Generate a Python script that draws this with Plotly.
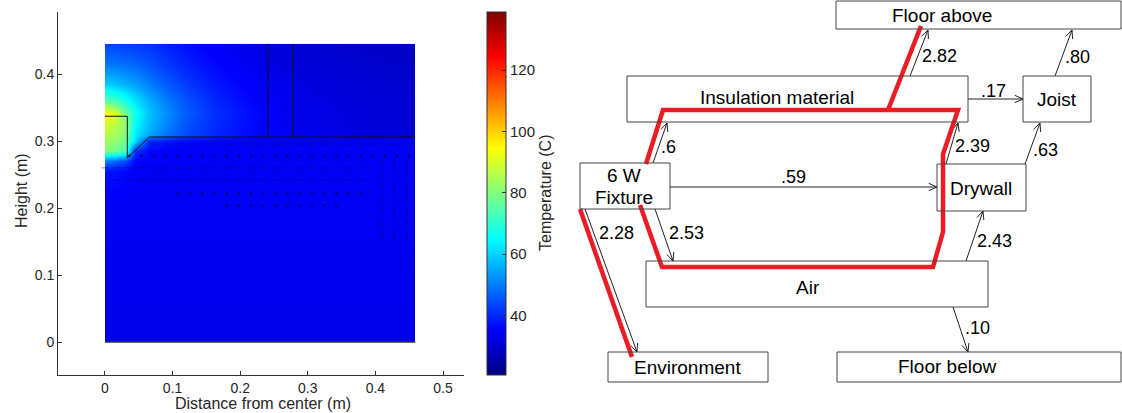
import math
import plotly.graph_objects as go

W, H = 1122, 413

# ---------------- left panel: temperature field ----------------
x_nodes = [0.0, 0.015, 0.03, 0.045, 0.065, 0.09, 0.12, 0.16, 0.21, 0.28, 0.36, 0.459]
y_nodes = [0.0, 0.2, 0.255, 0.27, 0.285, 0.3, 0.31, 0.325, 0.34, 0.36, 0.385, 0.415, 0.445]
temp_rows = [
    [33, 33, 33, 33, 33, 33, 33, 33, 33, 33, 33, 33],                  # 0.000
    [34, 34, 34, 34, 34, 34, 34, 34, 34, 34, 34, 34],                  # 0.200
    [37, 37, 36, 34.5, 34, 34, 34, 34, 34, 34, 34, 34],                # 0.255
    [50, 48, 44, 36, 35, 34.5, 34, 34, 34, 34, 34, 34],                # 0.270
    [80, 78, 74, 41, 36, 35, 34.5, 34, 34, 34, 34, 34],                # 0.285
    [84, 82, 78, 61, 40, 38, 36.5, 35.5, 35, 34, 34, 34],              # 0.300
    [86, 84, 80, 63, 55, 49, 44, 40, 36.5, 33.5, 32, 31],              # 0.310
    [90, 87, 82, 65, 57, 51, 45, 40.5, 36.5, 33, 31.5, 30],            # 0.325
    [96, 91, 79, 67, 58, 52, 46, 41, 37, 33, 31.5, 30],                # 0.340
    [76, 73, 68, 62, 56, 50, 45, 40, 36, 33, 31, 30],                  # 0.360
    [59, 58, 56, 54, 50, 46, 42, 38, 35, 32, 30.5, 29.5],              # 0.385
    [49, 49, 48, 47, 45, 42, 39, 36, 33.5, 31, 30, 29],                # 0.415
    [43, 43, 42.5, 42, 41, 39, 37, 34.5, 32.5, 30, 29, 28],            # 0.445
]
temp_min, temp_max = 20.5, 139.0
cbar_ticks = [40, 60, 80, 100, 120]

# geometry outlines (m)
fixture_x = [0.0, 0.033, 0.033, 0.0656, 0.459]
fixture_y = [0.337, 0.337, 0.275, 0.306, 0.306]
joist_x = [0.241, 0.278]
joist_y0, joist_y1 = 0.306, 0.445

# quiver (air flow) marks
q_cols = [0.000, 0.018, 0.036, 0.054, 0.072, 0.090, 0.108, 0.126, 0.144, 0.162, 0.180,
          0.198, 0.216, 0.234, 0.252, 0.270, 0.288, 0.306, 0.324, 0.342, 0.360, 0.378,
          0.396, 0.414, 0.432, 0.450]
q_rows = [  # (y, first col, last col, symbol)
    (0.2955, 4, 25, "line-ew"),
    (0.278, 2, 25, "circle"),
    (0.260, 0, 21, "line-ew"),
    (0.242, 1, 21, "line-ew"),
    (0.222, 6, 21, "circle"),
    (0.204, 10, 19, "circle"),
]
q_vcols = [0.410, 0.428, 0.446]
q_vys = [0.160, 0.178, 0.196, 0.214, 0.232, 0.250, 0.268]

# ---------------- right panel: heat-flow diagram ----------------
box_x0 = [836, 627, 1023, 580, 937, 646, 608, 837]
box_x1 = [1121, 968, 1091, 670, 1026, 988, 768, 1121]
box_y0 = [1, 76, 76, 163, 164, 261, 352, 352]
box_y1 = [29, 122, 122, 209, 211, 307, 382, 382]
text_labels = ["Floor above", "Insulation material", "Joist", "6 W", "Fixture",
               "Drywall", "Air", "Environment", "Floor below"]
text_x = [942, 777, 1057, 624, 624, 981, 808, 687, 947]
text_y = [15, 97, 99, 175, 197, 188, 287, 367, 366]

flow_values = [".6", ".59", "2.82", ".17", ".80", "2.39", ".63", "2.53", "2.28", "2.43", ".10"]
flow_x0 = [653, 670, 910, 968, 1055, 946, 1025, 655, 585, 966, 953]
flow_y0 = [163, 187, 76, 99, 76, 164, 164, 209, 209, 261, 307]
flow_x1 = [667, 937, 928, 1023, 1072, 958, 1040, 673, 637, 983, 968]
flow_y1 = [123, 187, 30, 99, 30, 123, 123, 261, 352, 211, 352]
flow_lx = [668, 793, 939, 993, 1077, 972, 1045, 686, 616, 994, 977]
flow_ly = [147, 177, 56, 91, 57, 146, 150, 233, 233, 241, 328]

red_paths = [
    ([646, 663, 958, 943, 943, 933, 662, 640], [164, 110, 110, 154, 232, 267, 267, 205]),
    ([888, 921], [110, 26]),
    ([580, 632], [209, 357]),
]

jet = [[0.0, "rgb(0,0,128)"], [0.125, "rgb(0,0,255)"], [0.375, "rgb(0,255,255)"],
       [0.625, "rgb(255,255,0)"], [0.875, "rgb(255,0,0)"], [1.0, "rgb(128,0,0)"]]

fig = go.Figure()

fig.add_trace(go.Contour(
    x=x_nodes, y=y_nodes, z=temp_rows,
    colorscale=jet, zmin=temp_min, zmax=temp_max, zauto=False,
    contours=dict(coloring="heatmap", showlines=False, start=temp_min, end=temp_max, size=1),
    line=dict(width=0), hoverinfo="skip",
    colorbar=dict(
        x=487 / W, xanchor="left", xpad=0, y=1 - (12 + 375) / 2 / H, yanchor="middle", ypad=0,
        len=363 / H, lenmode="fraction", thickness=19, outlinewidth=1, outlinecolor="#333",
        tickvals=cbar_ticks, ticks="inside", ticklen=4, tickcolor="#333",
        tickfont=dict(family="Liberation Sans, Arial", size=15, color="#262626"),
    ),
    xaxis="x", yaxis="y",
))

# outlines
fig.add_trace(go.Scatter(x=fixture_x, y=fixture_y, mode="lines",
                         line=dict(color="#111", width=1), hoverinfo="skip", showlegend=False))
jx, jy = [], []
for xv in joist_x:
    jx += [xv, xv, None]
    jy += [joist_y0, joist_y1, None]
jx += [x_nodes[0], x_nodes[-1], None]
jy += [y_nodes[0], y_nodes[0], None]
fig.add_trace(go.Scatter(x=jx, y=jy, mode="lines", line=dict(color="#111", width=1),
                         hoverinfo="skip", showlegend=False))

# quiver marks
qcol = "rgba(0,0,60,0.45)"
for (yv, i0, i1, sym) in q_rows:
    xs = q_cols[i0:i1 + 1]
    fig.add_trace(go.Scatter(
        x=xs, y=[yv] * len(xs), mode="markers", hoverinfo="skip", showlegend=False,
        marker=dict(symbol=sym, size=5 if sym != "circle" else 2, color=qcol,
                    line=dict(color=qcol, width=1))))
vx, vy = [], []
for xv in q_vcols:
    for yv in q_vys:
        vx.append(xv)
        vy.append(yv)
fig.add_trace(go.Scatter(x=vx, y=vy, mode="markers", hoverinfo="skip", showlegend=False,
                         marker=dict(symbol="line-ns", size=5, line=dict(color=qcol, width=1))))

# ---- diagram (pixel-like coordinates on x2/y2) ----
shapes = []
for a, b, c, d in zip(box_x0, box_x1, box_y0, box_y1):
    shapes.append(dict(type="rect", xref="x2", yref="y2", x0=a, x1=b, y0=c, y1=d,
                       line=dict(color="#444", width=1), fillcolor="rgba(0,0,0,0)"))

ax_, ay_ = [], []
L, ang = 9.0, 0.42
for x0, y0, x1, y1 in zip(flow_x0, flow_y0, flow_x1, flow_y1):
    dx, dy = x1 - x0, y1 - y0
    d = math.hypot(dx, dy)
    ux, uy = dx / d, dy / d
    ca, sa = math.cos(ang), math.sin(ang)
    lx = x1 - L * (ux * ca - uy * sa)
    ly = y1 - L * (uy * ca + ux * sa)
    rx = x1 - L * (ux * ca + uy * sa)
    ry = y1 - L * (uy * ca - ux * sa)
    ax_ += [x0, x1, None, lx, x1, rx, None]
    ay_ += [y0, y1, None, ly, y1, ry, None]
fig.add_trace(go.Scatter(x=ax_, y=ay_, mode="lines", line=dict(color="#222", width=1),
                         xaxis="x2", yaxis="y2", hoverinfo="skip", showlegend=False))

for px, py in red_paths:
    fig.add_trace(go.Scatter(x=px, y=py, mode="lines",
                             line=dict(color="#ec1c24", width=4.5),
                             xaxis="x2", yaxis="y2", hoverinfo="skip", showlegend=False))

annotations = []
for t, x, y in zip(text_labels, text_x, text_y):
    annotations.append(dict(text=t, x=x, y=y, xref="x2", yref="y2", showarrow=False,
                            font=dict(family="Arial, Liberation Sans", size=19, color="#000"),
                            xanchor="center", yanchor="middle"))
for t, x, y in zip(flow_values, flow_lx, flow_ly):
    annotations.append(dict(text=t, x=x, y=y, xref="x2", yref="y2", showarrow=False,
                            font=dict(family="Arial, Liberation Sans", size=18, color="#000"),
                            xanchor="center", yanchor="middle"))

axis_font = dict(family="Liberation Sans, Arial", size=16, color="#262626")
annotations.append(dict(text="Distance from center (m)", x=263 / W, y=1 - 403 / H,
                        xref="paper", yref="paper", showarrow=False, font=axis_font,
                        xanchor="center", yanchor="middle"))
annotations.append(dict(text="Height (m)", x=22 / W, y=1 - 191 / H, xref="paper", yref="paper",
                        showarrow=False, font=axis_font, textangle=-90,
                        xanchor="center", yanchor="middle"))
annotations.append(dict(text="Temperature (C)", x=545 / W, y=1 - 193 / H, xref="paper",
                        yref="paper", showarrow=False, font=axis_font, textangle=-90,
                        xanchor="center", yanchor="middle"))

tick_font = dict(family="Liberation Sans, Arial", size=14, color="#262626")
fig.update_layout(
    width=W, height=H, margin=dict(l=0, r=0, t=0, b=0),
    paper_bgcolor="white", plot_bgcolor="rgba(0,0,0,0)",
    showlegend=False,
    xaxis=dict(domain=[58 / W, 464 / W], range=[-0.0695, 0.531], tickvals=[0, 0.1, 0.2, 0.3, 0.4, 0.5],
               ticktext=["0", "0.1", "0.2", "0.3", "0.4", "0.5"],
               showline=True, linecolor="#333", linewidth=1, ticks="inside", ticklen=4,
               tickcolor="#333", showgrid=False, zeroline=False, tickfont=tick_font,
               anchor="y", fixedrange=True),
    yaxis=dict(domain=[1 - 375 / H, 1 - 12 / H], range=[-0.049, 0.4925],
               tickvals=[0, 0.1, 0.2, 0.3, 0.4], ticktext=["0", "0.1", "0.2", "0.3", "0.4"],
               showline=True, linecolor="#333", linewidth=1, ticks="inside", ticklen=4,
               tickcolor="#333", showgrid=False, zeroline=False, tickfont=tick_font,
               anchor="x", fixedrange=True),
    xaxis2=dict(domain=[561 / W, 1.0], range=[561, 1122], visible=False, anchor="y2",
                fixedrange=True),
    yaxis2=dict(domain=[0, 1], range=[413, 0], visible=False, anchor="x2", fixedrange=True),
    shapes=shapes,
    annotations=annotations,
)

fig.write_html("out.html", config={"displayModeBar": False},
               post_script="document.body.style.margin='0';document.body.style.overflow='hidden';")
